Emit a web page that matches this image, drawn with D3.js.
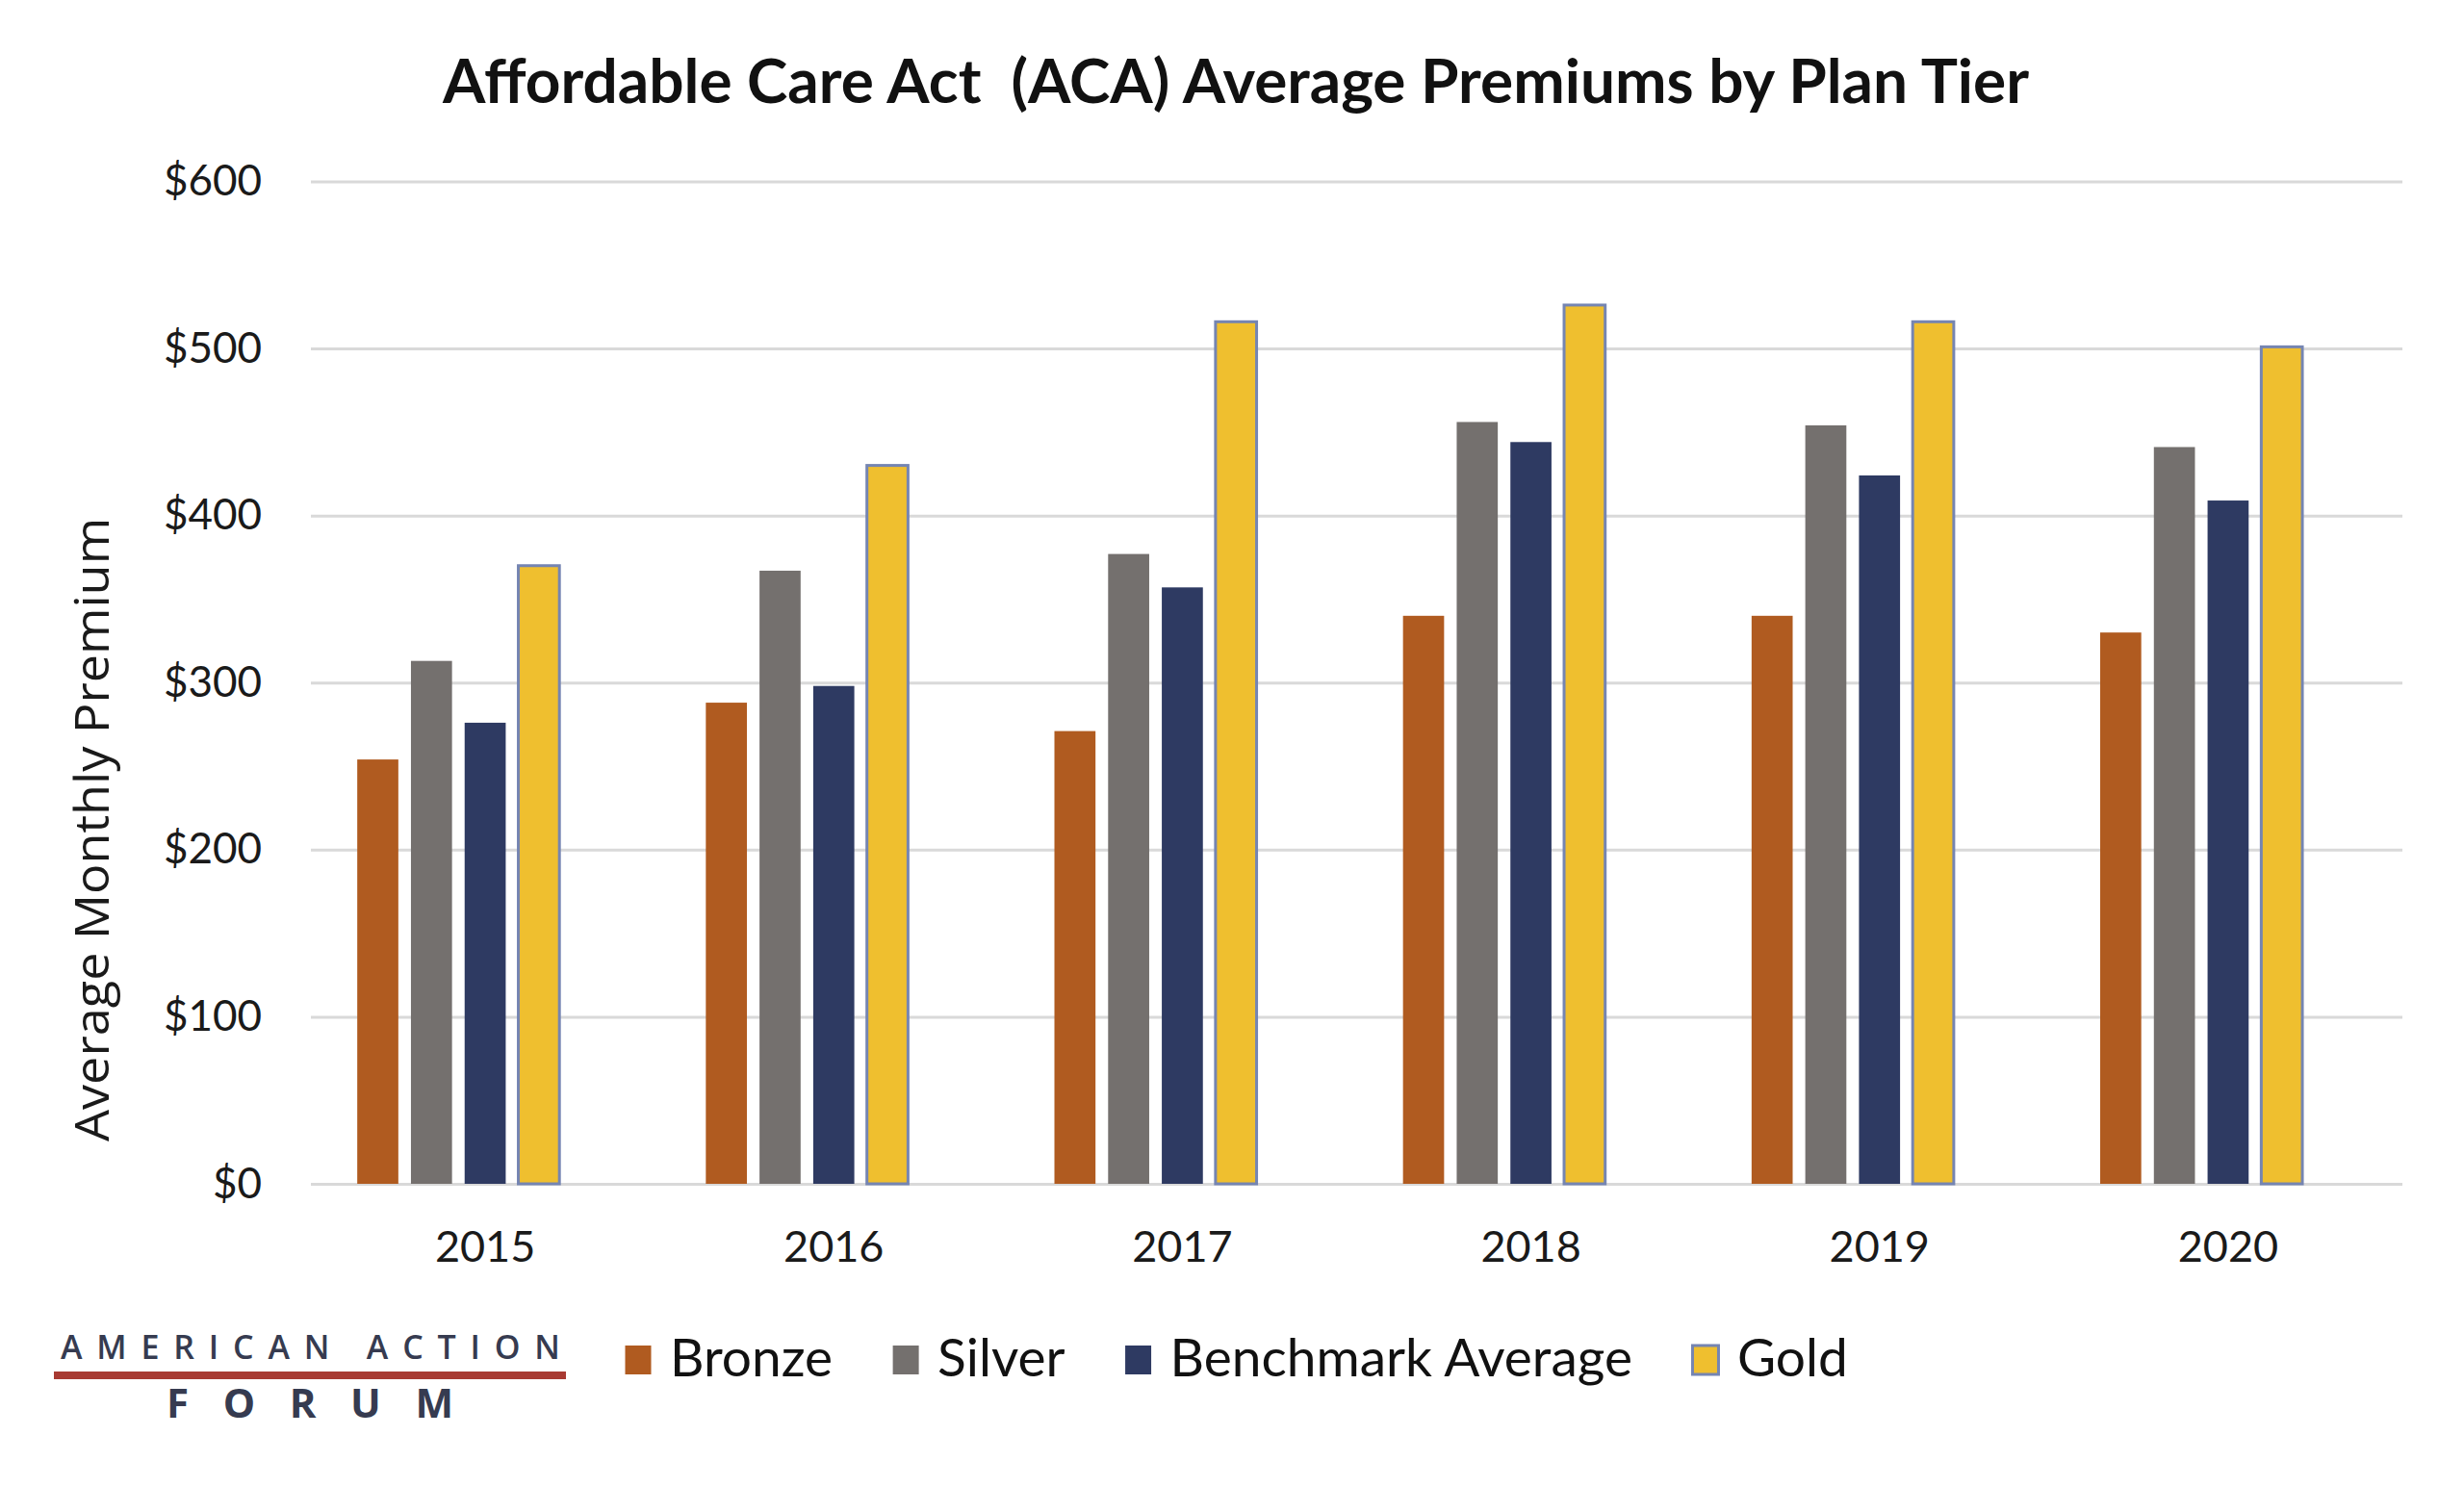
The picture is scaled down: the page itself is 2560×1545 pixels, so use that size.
<!DOCTYPE html>
<html>
<head>
<meta charset="utf-8">
<script src="https://cdn.jsdelivr.net/npm/d3@7"></script>
<style>
  body { margin: 0; background: #fff; }
  svg { display: block; }
</style>
</head>
<body>
<div id="container"></div>
<script>
/* DATA */
const years = ["2015", "2016", "2017", "2018", "2019", "2020"];
const seriesNames = ["Bronze", "Silver", "Benchmark Average", "Gold"];
const bronze = [254, 288, 271, 340, 340, 330];
const silver = [313, 367, 377, 456, 454, 441];
const benchmark = [276, 298, 357, 444, 424, 409];
const gold = [370, 430, 516, 526, 516, 501];
const yTicks = [0, 100, 200, 300, 400, 500, 600];

/* CONSTANTS */
const width = 2560,
  height = 1545,
  margin = { top: 188.5, bottom: 315, left: 323, right: 64 };

const colors = ["#B05B20", "#74706E", "#2E3A62", "#EFBF2F"];
const goldStroke = "#7585B2";

// table built from the arrays above
const table = years.map((yr, i) => ({
  year: yr,
  values: [bronze[i], silver[i], benchmark[i], gold[i]]
}));

/* SCALES */
const x0 = d3.scaleBand()
  .domain(years)
  .range([margin.left, width - margin.right])
  .paddingInner(0.266)
  .paddingOuter(0.133);

// the chart leaves an empty fifth slot in each group
const x1 = d3.scaleBand()
  .domain([...seriesNames, "_empty"])
  .range([0, x0.bandwidth()])
  .paddingInner(0.235);

const y = d3.scaleLinear()
  .domain([0, 600])
  .range([height - margin.bottom, margin.top]);

const color = d3.scaleOrdinal().domain(seriesNames).range(colors);

/* SVG */
const svg = d3.select("#container")
  .append("svg")
  .attr("width", width)
  .attr("height", height)
  .style("background-color", "#fff");

// title
svg.append("text")
  .attr("x", 1284)
  .attr("y", 107)
  .attr("text-anchor", "middle")
  .attr("font-family", "Lato, 'Open Sans', sans-serif")
  .attr("font-weight", "bold")
  .attr("font-size", 64)
  .attr("fill", "#111")
  .attr("textLength", 1648)
  .attr("lengthAdjust", "spacingAndGlyphs")
  .style("white-space", "pre")
  .text("Affordable Care Act  (ACA) Average Premiums by Plan Tier");

// y axis with gridlines
const yAxis = d3.axisLeft(y)
  .tickValues(yTicks)
  .tickFormat(d => "$" + d)
  .tickSize(-(width - margin.left - margin.right))
  .tickPadding(51);

svg.append("g")
  .attr("transform", `translate(${margin.left},0)`)
  .call(yAxis)
  .call(g => g.select(".domain").remove())
  .call(g => g.selectAll("line").attr("stroke", "#D9D9D9").attr("stroke-width", 3))
  .call(g => g.selectAll("text")
    .attr("font-family", "Lato, sans-serif")
    .attr("font-size", 44)
    .attr("fill", "#1a1a1a"));

// y axis title
svg.append("text")
  .attr("transform", `translate(113, 862) rotate(-90)`)
  .attr("text-anchor", "middle")
  .attr("font-family", "'Open Sans', sans-serif")
  .attr("font-size", 50)
  .attr("fill", "#1a1a1a")
  .attr("textLength", 648)
  .attr("lengthAdjust", "spacingAndGlyphs")
  .text("Average Monthly Premium");

// bars
const groups = svg.selectAll(".group")
  .data(table)
  .join("g")
  .attr("class", "group")
  .attr("transform", d => `translate(${x0(d.year)},0)`);

groups.selectAll("rect")
  .data(d => d.values.map((v, i) => ({ key: seriesNames[i], value: v })))
  .join("rect")
  .attr("x", d => x1(d.key))
  .attr("y", d => y(d.value))
  .attr("width", x1.bandwidth())
  .attr("height", d => y(0) - y(d.value))
  .attr("fill", d => color(d.key))
  .attr("stroke", d => d.key === "Gold" ? goldStroke : "none")
  .attr("stroke-width", 3);

// x axis
svg.append("g")
  .attr("transform", `translate(0,${y(0)})`)
  .call(d3.axisBottom(x0).tickSize(0))
  .call(g => g.select(".domain").remove())
  .call(g => g.selectAll("text")
    .attr("y", 81)
    .attr("dy", 0)
    .attr("font-family", "Lato, sans-serif")
    .attr("font-size", 45)
    .attr("fill", "#1a1a1a"));

// legend
const legend = svg.append("g").attr("transform", "translate(648,0)");
let lx = 0;
seriesNames.forEach((name, i) => {
  const item = legend.append("g").attr("transform", `translate(${lx},0)`);
  item.append("rect")
    .attr("x", 1.5)
    .attr("y", 1398)
    .attr("width", 27)
    .attr("height", 30)
    .attr("fill", colors[i])
    .attr("stroke", name === "Gold" ? goldStroke : "none")
    .attr("stroke-width", 3);
  const t = item.append("text")
    .attr("x", 48)
    .attr("y", 1430)
    .attr("font-family", "Lato, sans-serif")
    .attr("font-size", 55)
    .attr("fill", "#111")
    .text(name);
  lx += 48 + t.node().getComputedTextLength() + 61;
});

// logo
const logo = svg.append("g");
logo.append("text")
  .attr("x", 63)
  .attr("y", 1412)
  .attr("font-family", "'Open Sans', sans-serif")
  .attr("font-weight", 600)
  .attr("font-size", 34)
  .attr("fill", "#363B50")
  .attr("textLength", 519)
  .attr("lengthAdjust", "spacing")
  .text("AMERICAN ACTION");
logo.append("rect")
  .attr("x", 56)
  .attr("y", 1425)
  .attr("width", 532)
  .attr("height", 8)
  .attr("fill", "#A83A32");
logo.append("text")
  .attr("x", 173)
  .attr("y", 1473)
  .attr("font-family", "'Open Sans', sans-serif")
  .attr("font-weight", "bold")
  .attr("font-size", 42)
  .attr("fill", "#363B50")
  .attr("textLength", 298)
  .attr("lengthAdjust", "spacing")
  .text("FORUM");
</script>
</body>
</html>
